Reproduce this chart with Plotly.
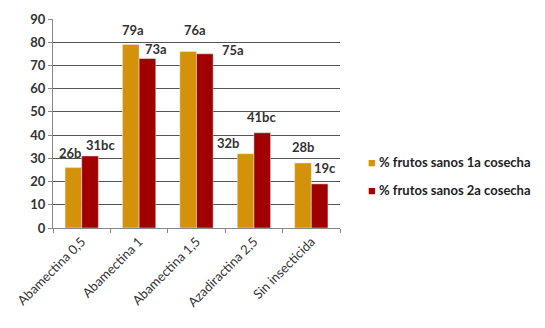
import plotly.graph_objects as go

categories = ["Abamectina 0,5", "Abamectina 1", "Abamectina 1,5", "Azadiractina 2,5", "Sin insecticida"]
cosecha1 = [26, 79, 76, 32, 28]
cosecha2 = [31, 73, 75, 41, 19]
labels1 = ["26b", "79a", "76a", "32b", "28b"]
labels2 = ["31bc", "73a", "75a", "41bc", "19c"]
series_names = ["% frutos sanos 1a cosecha", "% frutos sanos 2a cosecha"]

# label placement offsets (pixels) relative to category centre / bar top
offsets1 = [(-12, 15), (-6, 15), (-2, 22), (-26, 11), (-8, 16)]
offsets2 = [(19, 11), (17, 9), (36, 4), (8, 16), (14, 16)]

colors = ["#D4920A", "#A00000"]
font_family = "Lato"
txt_color = "#333333"

fig = go.Figure()
for vals, name, col in [(cosecha1, series_names[0], colors[0]),
                        (cosecha2, series_names[1], colors[1])]:
    fig.add_trace(go.Bar(x=categories, y=vals, name=name, marker_color=col,
                         showlegend=False))

for vals, labs, offs in [(cosecha1, labels1, offsets1), (cosecha2, labels2, offsets2)]:
    for cat, v, lab, (xs, ys) in zip(categories, vals, labs, offs):
        fig.add_annotation(
            x=cat, y=v, xref="x", yref="y", text=lab, showarrow=False,
            xanchor="center", yanchor="middle", xshift=xs, yshift=ys,
            font=dict(family=font_family, size=13, color=txt_color, weight="bold"),
        )

# legend drawn as text entries
for i, (name, col) in enumerate(zip(series_names, colors)):
    fig.add_annotation(
        xref="paper", yref="paper", x=1.09, y=0.315 - i * 0.132,
        xanchor="left", yanchor="middle", showarrow=False,
        text=f"<span style='color:{col}'>■</span> {name}",
        font=dict(family=font_family, size=13, color="#222222", weight="bold"),
    )

fig.update_layout(
    width=545, height=328,
    margin=dict(l=53, r=205, t=19, b=100),
    paper_bgcolor="white", plot_bgcolor="white",
    barmode="group", bargap=0.42, bargroupgap=0,
    font=dict(family=font_family, color=txt_color),
)
fig.update_yaxes(
    range=[0, 90], dtick=10, showgrid=True, gridcolor="#555555", gridwidth=1,
    showline=True, linecolor="#888888", linewidth=1,
    ticks="outside", ticklen=4, tickcolor="#888888",
    tickfont=dict(family=font_family, size=13, color=txt_color, weight="bold"),
    zeroline=False, automargin=False,
)
fig.update_xaxes(
    showline=True, linecolor="#888888", linewidth=1,
    ticks="outside", ticklen=4, tickcolor="#888888", tickson="boundaries",
    tickangle=-45, automargin=False,
    tickfont=dict(family=font_family, size=13, color=txt_color),
)

fig.write_html("out.html")
